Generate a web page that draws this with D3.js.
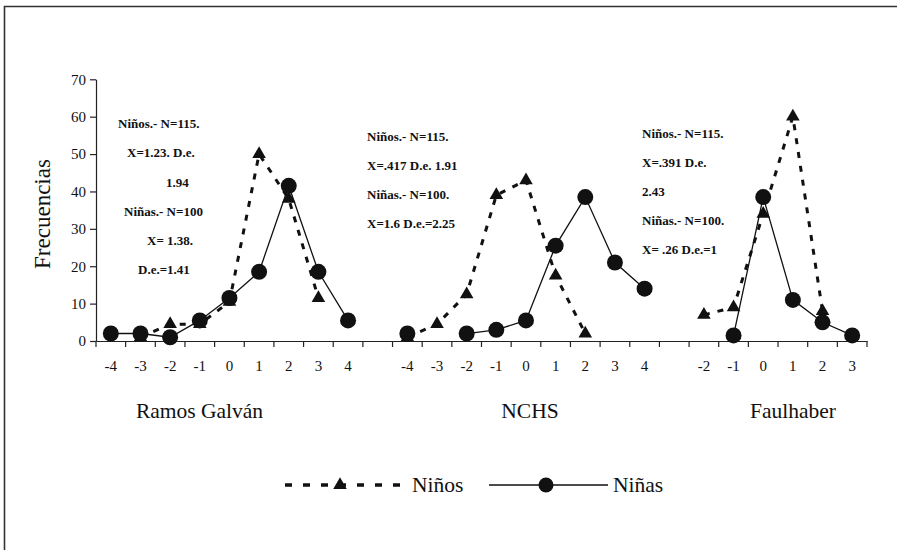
<!DOCTYPE html>
<html>
<head>
<meta charset="utf-8">
<script src="https://cdn.jsdelivr.net/npm/d3@7"></script>
<style>
  html, body { margin: 0; padding: 0; background: #fff; }
  svg { display: block; }
  svg text { font-family: "Liberation Serif", "Tinos", "DejaVu Serif", "Noto Serif", "Times New Roman", Times, serif; fill: #111; }
</style>
</head>
<body>
<svg id="chart" width="897" height="550"></svg>
<script>
// ---------------- data ----------------
const panels = ["Ramos Galván", "NCHS", "Faulhaber"];

const ticksRamos = ["-4", "-3", "-2", "-1", "0", "1", "2", "3", "4"];
const ticksNCHS  = ["-4", "-3", "-2", "-1", "0", "1", "2", "3", "4"];
const ticksFaul  = ["-2", "-1", "0", "1", "2", "3"];

// Niños (dashed, triangles)
const ninosRamos = [null, 1, 4.5, 4.5, 10.5, 50, 38, 11.5, null];
const ninosNCHS  = [1, 4.5, 12.5, 39, 43, 17.5, 2, null, null];
const ninosFaul  = [7, 9, 34, 60, 8, null];

// Niñas (solid, circles)
const ninasRamos = [2, 2, 1, 5.5, 11.5, 18.5, 41.5, 18.5, 5.5];
const ninasNCHS  = [2, null, 2, 3, 5.5, 25.5, 38.5, 21, 14];
const ninasFaul  = [null, 1.5, 38.5, 11, 5, 1.5];

const yTicks = [0, 10, 20, 30, 40, 50, 60, 70];

const notesRamos = ["Niños.- N=115.", "X=1.23. D.e.", "1.94", "Niñas.- N=100", "X= 1.38.", "D.e.=1.41"];
const notesNCHS  = ["Niños.- N=115.", "X=.417 D.e. 1.91", "Niñas.- N=100.", "X=1.6 D.e.=2.25"];
const notesFaul  = ["Niños.- N=115.", "X=.391 D.e.", "2.43", "Niñas.- N=100.", "X= .26 D.e.=1"];

const legendLabels = ["Niños", "Niñas"];
const yTitle = "Frecuencias";

// ---------------- layout ----------------
const FONT = '"Liberation Serif", "Tinos", "DejaVu Serif", "Noto Serif", "Times New Roman", Times, serif';
const panelTicks = [ticksRamos, ticksNCHS, ticksFaul];
const panelNinos = [ninosRamos, ninosNCHS, ninosFaul];
const panelNinas = [ninasRamos, ninasNCHS, ninasFaul];
const panelNotes = [notesRamos, notesNCHS, notesFaul];
const notesLayout = [
  { xs: [118, 127, 166, 124, 147, 138], y0: 124, dy: 29.2 },
  { xs: [367, 367, 367, 367], y0: 136.7, dy: 28.9 },
  { xs: [642, 642, 642, 642, 642], y0: 133.3, dy: 29.2 }
];
const titleX = [199.5, 530, 793];

const svg = d3.select("#chart");

// Categories (with a blank slot between panels)
const cats = [];
panels.forEach((p, pi) => {
  if (pi > 0) cats.push({ key: "gap" + pi, label: "", panel: -1 });
  panelTicks[pi].forEach((t, ti) => cats.push({ key: p + "|" + t, label: t, panel: pi, idx: ti }));
});

const x = d3.scaleBand().domain(cats.map(c => c.key)).range([96, 867]).padding(0);
const y = d3.scaleLinear().domain([0, 70]).range([341, 79.3]);
const cx = k => x(k) + x.bandwidth() / 2;

function seriesFrom(panelVals) {
  return cats.map(c => ({ key: c.key, v: c.panel >= 0 ? panelVals[c.panel][c.idx] : null }));
}
const ninos = seriesFrom(panelNinos);
const ninas = seriesFrom(panelNinas);

// Border frame
svg.append("path")
  .attr("d", "M4.5,550 L4.5,6.5 L897,6.5")
  .attr("fill", "none").attr("stroke", "#333").attr("stroke-width", 1.6);

// Y axis
const yAxis = svg.append("g").attr("transform", "translate(96,0)")
  .call(d3.axisLeft(y).tickValues(yTicks).tickSize(6).tickSizeOuter(0).tickPadding(4));
yAxis.attr("font-family", null).attr("font-size", null);
yAxis.selectAll("text").style("font-size", "15px").style("font-family", FONT).attr("fill", "#111");
yAxis.selectAll("line, path").attr("stroke", "#222").attr("stroke-width", 1.2);

// X axis (labels at category centers, ticks at boundaries)
const xAxis = svg.append("g").attr("transform", "translate(0,341)")
  .call(d3.axisBottom(x).tickSize(0).tickSizeOuter(0).tickPadding(19)
    .tickFormat(k => cats.find(c => c.key === k).label));
xAxis.attr("font-family", null).attr("font-size", null);
xAxis.selectAll("text").style("font-size", "15px").style("font-family", FONT).attr("fill", "#111");
xAxis.select("path.domain").attr("stroke", "#222").attr("stroke-width", 1.2);
const bounds = cats.map(c => x(c.key)).concat([x.range()[1]]);
xAxis.selectAll("line.bound").data(bounds).enter().append("line")
  .attr("class", "bound")
  .attr("x1", d => d).attr("x2", d => d).attr("y1", 0).attr("y2", 6)
  .attr("stroke", "#222").attr("stroke-width", 1.2);

// Y title
svg.append("text")
  .attr("transform", "translate(42,214) rotate(-90)")
  .attr("text-anchor", "middle").attr("dy", "0.35em")
  .style("font-family", FONT).style("font-size", "23px").text(yTitle);

// Lines
const line = d3.line().defined(d => d.v != null).x(d => cx(d.key)).y(d => y(d.v));
svg.append("path").datum(ninos).attr("d", line)
  .attr("fill", "none").attr("stroke", "#111").attr("stroke-width", 3)
  .attr("stroke-dasharray", "6,8");
svg.append("path").datum(ninas).attr("d", line)
  .attr("fill", "none").attr("stroke", "#111").attr("stroke-width", 1.3);

// Markers
const tri = d3.symbol().type(d3.symbolTriangle).size(80);
svg.selectAll("path.tri").data(ninos.filter(d => d.v != null)).enter().append("path")
  .attr("class", "tri").attr("d", tri)
  .attr("transform", d => `translate(${cx(d.key)},${y(d.v)})`).attr("fill", "#111");
svg.selectAll("circle.dot").data(ninas.filter(d => d.v != null)).enter().append("circle")
  .attr("class", "dot").attr("cx", d => cx(d.key)).attr("cy", d => y(d.v)).attr("r", 8)
  .attr("fill", "#111");

// Annotations
panelNotes.forEach((notes, pi) => {
  const L = notesLayout[pi];
  svg.selectAll(null).data(notes).enter().append("text")
    .attr("x", (d, i) => L.xs[i]).attr("y", (d, i) => L.y0 + i * L.dy)
    .attr("dy", "0.33em").style("font-family", FONT).style("font-size", "13px").style("font-weight", "bold")
    .text(d => d);
});

// Panel titles
svg.selectAll("text.ptitle").data(panels).enter().append("text")
  .attr("class", "ptitle").attr("x", (d, i) => titleX[i]).attr("y", 418)
  .attr("text-anchor", "middle").style("font-family", FONT).style("font-size", "21.5px").text(d => d);

// Legend
const lg = svg.append("g");
lg.append("line").attr("x1", 285).attr("x2", 406).attr("y1", 485).attr("y2", 485)
  .attr("stroke", "#111").attr("stroke-width", 3.5).attr("stroke-dasharray", "7,11");
lg.append("path").attr("d", tri).attr("transform", "translate(340,485)").attr("fill", "#111");
lg.append("text").attr("x", 412).attr("y", 492).style("font-family", FONT).style("font-size", "21.5px").text(legendLabels[0]);
lg.append("line").attr("x1", 489).attr("x2", 608).attr("y1", 485).attr("y2", 485)
  .attr("stroke", "#111").attr("stroke-width", 1.3);
lg.append("circle").attr("cx", 546).attr("cy", 485).attr("r", 7.5).attr("fill", "#111");
lg.append("text").attr("x", 613).attr("y", 492).style("font-family", FONT).style("font-size", "21.5px").text(legendLabels[1]);
</script>
</body>
</html>
